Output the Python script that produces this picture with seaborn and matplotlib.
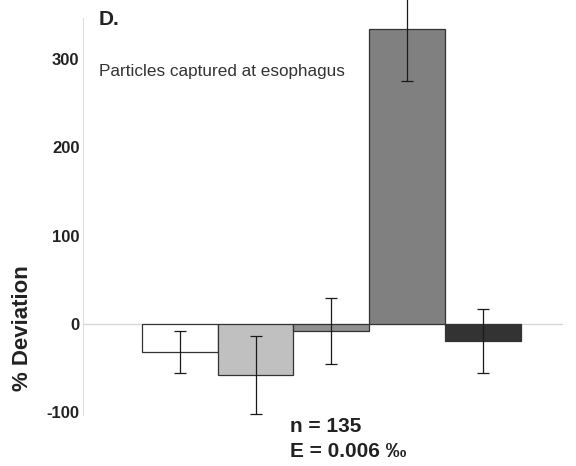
import matplotlib
matplotlib.use("Agg")
import matplotlib.pyplot as plt
import seaborn as sns
import pandas as pd

# Percent deviation per treatment group, with error half-widths
groups = ["G1", "G2", "G3", "G4", "G5"]
deviation = [-32, -58, -8, 333, -19]
error = [24, 44, 37, 58, 36]
bar_colors = ["#ffffff", "#c0c0c0", "#8f8f8f", "#808080", "#333333"]
y_ticks = [-100, 0, 100, 200, 300]

sns.set_style("white")
plt.rcParams["font.family"] = ["Liberation Sans", "DejaVu Sans"]
plt.rcParams["axes.unicode_minus"] = False

W, H = 576, 466
fig = plt.figure(figsize=(W / 100, H / 100), dpi=100)
ax = fig.add_axes([83 / W, (H - 415) / H, (563 - 83) / W, (415 - 18) / H])

df = pd.DataFrame({"group": groups, "deviation": deviation})
sns.barplot(data=df, x="group", y="deviation", hue="group",
            palette=dict(zip(groups, bar_colors)), width=1.0,
            edgecolor="#333333", linewidth=0.9, errorbar=None,
            legend=False, ax=ax, zorder=2)

eb = ax.errorbar(range(len(groups)), deviation, yerr=error, fmt="none",
                 ecolor="#1a1a1a", elinewidth=0.9, capsize=4.5,
                 capthick=0.9, zorder=3)
for art in eb.lines[1] + eb.lines[2]:
    art.set_clip_on(False)

ax.axhline(0, color="#d4d4d4", lw=0.9, zorder=1)

ax.set_xlim(-1.28, 5.06)
ax.set_ylim(-103, 346)
ax.set_yticks(y_ticks)
ax.set_xticks([])
ax.set_xlabel("")
ax.set_ylabel("")
ax.tick_params(axis="y", length=0, pad=2.5, labelsize=12, labelcolor="#222222")
for lab in ax.get_yticklabels():
    lab.set_fontweight("bold")

for side in ("top", "right", "bottom"):
    ax.spines[side].set_visible(False)
ax.spines["left"].set_color("#dcdcdc")
ax.spines["left"].set_linewidth(0.8)


def px(x, y):
    return x / W, 1 - y / H


fig.text(*px(23, 328), "% Deviation", rotation=90, ha="center", va="center",
         fontsize=16, fontweight="bold", color="#222222")
fig.text(*px(99, 25), "D.", ha="left", va="baseline", fontsize=15,
         fontweight="bold", color="#222222")
fig.text(*px(99, 76), "Particles captured at esophagus", ha="left",
         va="baseline", fontsize=12.3, color="#333333")
fig.text(*px(290, 432), "n = 135", ha="left", va="baseline", fontsize=15,
         fontweight="bold", color="#222222")
fig.text(*px(290, 457), "E = 0.006 \u2030", ha="left", va="baseline",
         fontsize=15, fontweight="bold", color="#222222")

fig.savefig("out.png", dpi=100, facecolor="white")
